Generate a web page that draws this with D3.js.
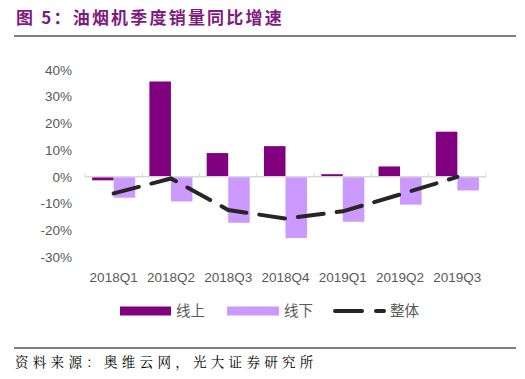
<!DOCTYPE html>
<html>
<head>
<meta charset="utf-8">
<script src="https://cdn.jsdelivr.net/npm/d3@7/dist/d3.min.js"></script>
<style>
  body { margin: 0; background: #fff; }
  svg { display: block; }
</style>
</head>
<body>
<svg id="chart" width="525" height="379"></svg>
<script>
// Data
var quarters = ["2018Q1", "2018Q2", "2018Q3", "2018Q4", "2019Q1", "2019Q2", "2019Q3"];
var online = [-1.3, 35.7, 8.9, 11.5, 1.0, 3.9, 16.9];
var offline = [-7.8, -9.2, -17.2, -22.9, -16.8, -10.4, -5.1];
var overall = [-6.2, -0.6, -12.4, -15.6, -12.9, -6.6, 0.0];
var yTicks = [40, 30, 20, 10, 0, -10, -20, -30];

var svg = d3.select("#chart");

// Plot area
var x0 = 85, x1 = 486;
var y = d3.scaleLinear().domain([-30, 40]).range([257, 70]);
var x = d3.scaleBand().domain(quarters).range([x0, x1]).paddingInner(0).paddingOuter(0);
var xs = d3.scaleBand().domain(["on", "off"]).range([0, x.bandwidth()]).paddingInner(0).paddingOuter(0.33);

// Title
svg.append("text")
    .attr("x", 16).attr("y", 24)
    .attr("font-family", "'Noto Sans CJK SC', sans-serif")
    .attr("font-weight", "bold")
    .attr("font-size", 17)
    .attr("letter-spacing", 2.2)
    .attr("fill", "#7f1a7f")
    .text("图 5：油烟机季度销量同比增速");

svg.append("line")
    .attr("x1", 14).attr("x2", 516).attr("y1", 36).attr("y2", 36)
    .attr("stroke", "#000").attr("stroke-width", 1);

// Y axis labels
svg.append("g").selectAll("text")
    .data(yTicks)
    .join("text")
    .attr("x", 72)
    .attr("y", function(d) { return y(d); })
    .attr("dy", "0.35em")
    .attr("text-anchor", "end")
    .attr("font-family", "Arial, 'Liberation Sans', sans-serif")
    .attr("font-size", 13.5)
    .attr("fill", "#595959")
    .text(function(d) { return d + "%"; });

// Bars
var groups = svg.append("g").selectAll("g")
    .data(quarters)
    .join("g")
    .attr("transform", function(d) { return "translate(" + x(d) + ",0)"; });

groups.append("rect")
    .attr("x", xs("on"))
    .attr("width", xs.bandwidth())
    .attr("y", function(d, i) { return y(Math.max(0, online[i])); })
    .attr("height", function(d, i) { return Math.abs(y(online[i]) - y(0)); })
    .attr("fill", "#800080");

groups.append("rect")
    .attr("x", xs("off"))
    .attr("width", xs.bandwidth())
    .attr("y", function(d, i) { return y(Math.max(0, offline[i])); })
    .attr("height", function(d, i) { return Math.abs(y(offline[i]) - y(0)); })
    .attr("fill", "#cc99ff");

// X axis line and ticks
svg.append("line")
    .attr("x1", x0).attr("x2", x1).attr("y1", y(0)).attr("y2", y(0))
    .attr("stroke", "#d9d9d9").attr("stroke-width", 1.5);

svg.append("g").selectAll("line")
    .data(quarters.concat(["end"]))
    .join("line")
    .attr("x1", function(d, i) { return x0 + i * x.step(); })
    .attr("x2", function(d, i) { return x0 + i * x.step(); })
    .attr("y1", y(0) - 4).attr("y2", y(0))
    .attr("stroke", "#d9d9d9").attr("stroke-width", 1);

// Overall line
var line = d3.line()
    .x(function(d, i) { return x(quarters[i]) + x.bandwidth() / 2; })
    .y(function(d) { return y(d); });

svg.append("path")
    .datum(overall)
    .attr("d", line)
    .attr("fill", "none")
    .attr("stroke", "#262626")
    .attr("stroke-width", 4)
    .attr("stroke-linecap", "round")
    .attr("stroke-dasharray", "26,13");

// X labels
svg.append("g").selectAll("text")
    .data(quarters)
    .join("text")
    .attr("x", function(d) { return x(d) + x.bandwidth() / 2; })
    .attr("y", 277)
    .attr("dy", "0.35em")
    .attr("text-anchor", "middle")
    .attr("font-family", "Arial, 'Liberation Sans', sans-serif")
    .attr("font-size", 13.5)
    .attr("fill", "#595959")
    .text(function(d) { return d; });

// Legend
var legY = 311;
var legFont = "'Noto Sans CJK SC', sans-serif";
svg.append("rect").attr("x", 120).attr("y", legY - 4.5).attr("width", 51).attr("height", 9).attr("fill", "#800080");
svg.append("text").attr("x", 176).attr("y", legY).attr("dy", "0.35em")
    .attr("font-family", legFont).attr("font-size", 14.5).attr("fill", "#595959").text("线上");
svg.append("rect").attr("x", 227).attr("y", legY - 4.5).attr("width", 52).attr("height", 9).attr("fill", "#cc99ff");
svg.append("text").attr("x", 284).attr("y", legY).attr("dy", "0.35em")
    .attr("font-family", legFont).attr("font-size", 14.5).attr("fill", "#595959").text("线下");
svg.append("line").attr("x1", 335).attr("x2", 362).attr("y1", legY).attr("y2", legY)
    .attr("stroke", "#262626").attr("stroke-width", 4).attr("stroke-linecap", "round");
svg.append("line").attr("x1", 376).attr("x2", 384).attr("y1", legY).attr("y2", legY)
    .attr("stroke", "#262626").attr("stroke-width", 4).attr("stroke-linecap", "round");
svg.append("text").attr("x", 390).attr("y", legY).attr("dy", "0.35em")
    .attr("font-family", legFont).attr("font-size", 14.5).attr("fill", "#595959").text("整体");

// Footer
svg.append("line")
    .attr("x1", 14).attr("x2", 516).attr("y1", 348).attr("y2", 348)
    .attr("stroke", "#000").attr("stroke-width", 1);

svg.append("text")
    .attr("x", 15).attr("y", 362)
    .attr("dy", "0.35em")
    .attr("font-family", "'Noto Serif CJK SC', 'AR PL UMing CN', 'Noto Sans CJK SC', serif")
    .attr("font-size", 13.5)
    .attr("letter-spacing", 4.3)
    .attr("fill", "#000")
    .text("资料来源：奥维云网，光大证券研究所");
</script>
</body>
</html>
